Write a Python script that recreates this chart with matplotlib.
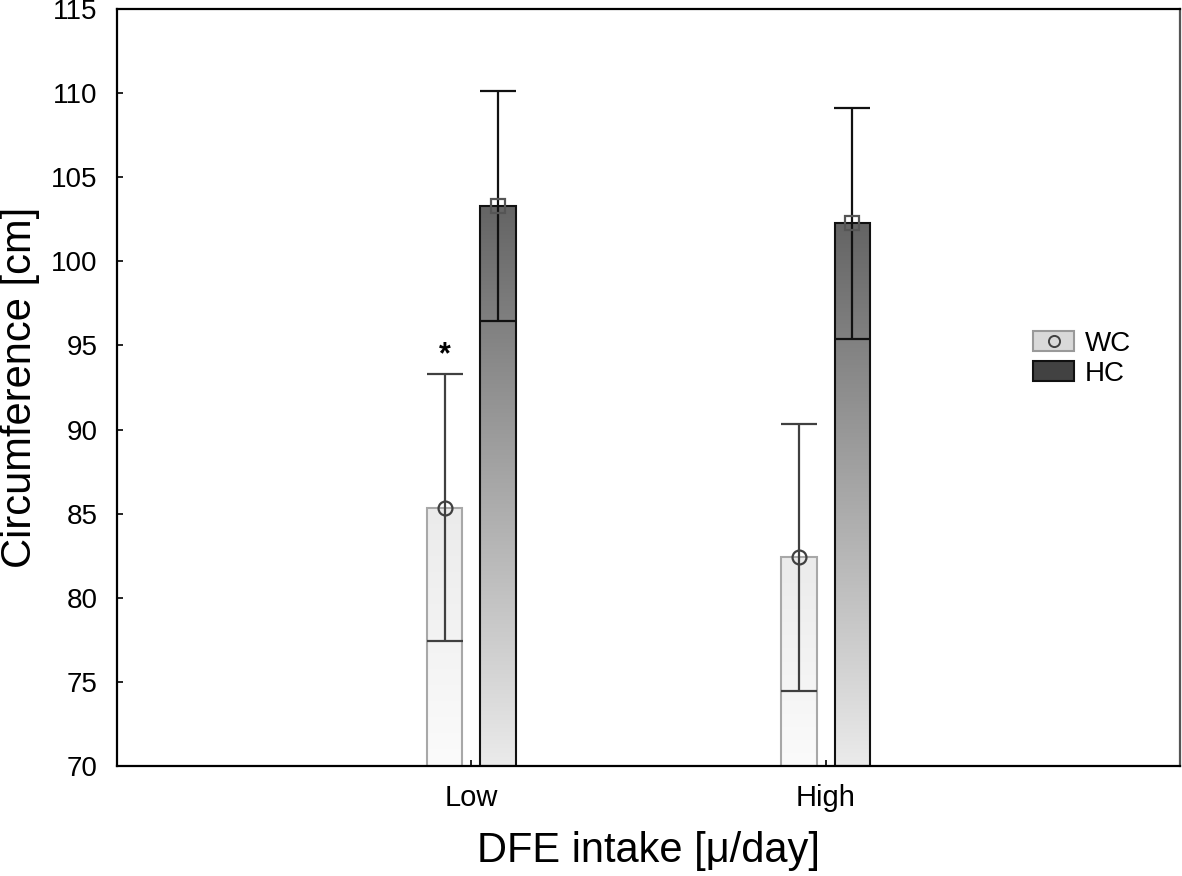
import numpy as np
import matplotlib.pyplot as plt
from matplotlib.colors import LinearSegmentedColormap
from matplotlib.patches import Patch
from matplotlib.lines import Line2D

plt.rcParams['font.family'] = ['Liberation Sans', 'DejaVu Sans']

groups = ['Low', 'High']
wc_mean = [85.35, 82.4]
wc_sd = [7.95, 7.95]
hc_mean = [103.3, 102.25]
hc_sd = [6.85, 6.85]

fig = plt.figure(figsize=(11.82, 8.76), dpi=100)
ax = fig.add_axes([0.099, 0.1256, 0.8993, 0.8641])

x = np.arange(len(groups))
w = 0.1
off = 0.075
ymin = 70

# gradient fills (top dark, bottom light)
wc_cmap = LinearSegmentedColormap.from_list('wc', ['#fbfbfb', '#ebebeb'])
hc_cmap = LinearSegmentedColormap.from_list('hc', ['#ebebeb', '#646464'])
grad = np.linspace(0, 1, 256).reshape(-1, 1)

for i in range(len(groups)):
    xl = x[i] - off - w / 2
    ax.imshow(grad, extent=[xl, xl + w, ymin, wc_mean[i]], origin='lower',
              cmap=wc_cmap, aspect='auto', zorder=1)
    xh = x[i] + off - w / 2
    ax.imshow(grad, extent=[xh, xh + w, ymin, hc_mean[i]], origin='lower',
              cmap=hc_cmap, aspect='auto', zorder=1)

ax.bar(x - off, np.array(wc_mean) - ymin, w, bottom=ymin, facecolor='none',
       edgecolor='#a8a8a8', linewidth=1.5, zorder=2)
ax.bar(x + off, np.array(hc_mean) - ymin, w, bottom=ymin, facecolor='none',
       edgecolor='#111111', linewidth=1.5, zorder=2)

# error bars
ax.errorbar(x - off, wc_mean, yerr=wc_sd, fmt='none', ecolor='#404040',
            elinewidth=1.6, capsize=13, capthick=1.6, zorder=3)
ax.plot(x - off, wc_mean, 'o', ms=10, mfc='none', mec='#404040', mew=1.6, zorder=4)
ax.errorbar(x + off, hc_mean, yerr=hc_sd, fmt='none', ecolor='#111111',
            elinewidth=1.6, capsize=13, capthick=1.6, zorder=3)
ax.plot(x + off, hc_mean, 's', ms=10, mfc='none', mec='#555555', mew=1.6, zorder=4)

ax.text(x[0] - off, wc_mean[0] + wc_sd[0] + 0.2, '*', ha='center', va='bottom',
        fontsize=22, fontweight='bold')

ax.set_xlim(-1, 2)
ax.set_ylim(70, 115)
ax.set_yticks(np.arange(70, 116, 5))
ax.set_xticks(x)
ax.set_xticklabels(groups)
ax.tick_params(direction='in', length=4, width=1.2, labelsize=20, top=False, right=False)
ax.tick_params(axis='y', pad=14)
ax.tick_params(axis='x', pad=13, labelsize=21)
for s in ax.spines.values():
    s.set_linewidth(1.6)
ax.spines['right'].set_color('#555555')

ax.set_xlabel('DFE intake [\u03bc/day]', fontsize=30, labelpad=14)
ax.set_ylabel('Circumference [cm]', fontsize=30)
ax.yaxis.set_label_coords(-0.072, 0.5)

h_wc = (Patch(facecolor='#d9d9d9', edgecolor='#999999', linewidth=1.5),
        Line2D([], [], marker='o', ls='none', ms=8, mfc='none', mec='#404040', mew=1.4))
h_hc = Patch(facecolor='#424242', edgecolor='#111111', linewidth=1.5)
ax.legend([h_wc, h_hc], ['WC', 'HC'], loc='center left', bbox_to_anchor=(0.849, 0.538),
          frameon=False, fontsize=20, handlelength=1.45, handleheight=0.72,
          handletextpad=0.4, labelspacing=0.15, borderpad=0)

fig.savefig('out.png', dpi=100)
